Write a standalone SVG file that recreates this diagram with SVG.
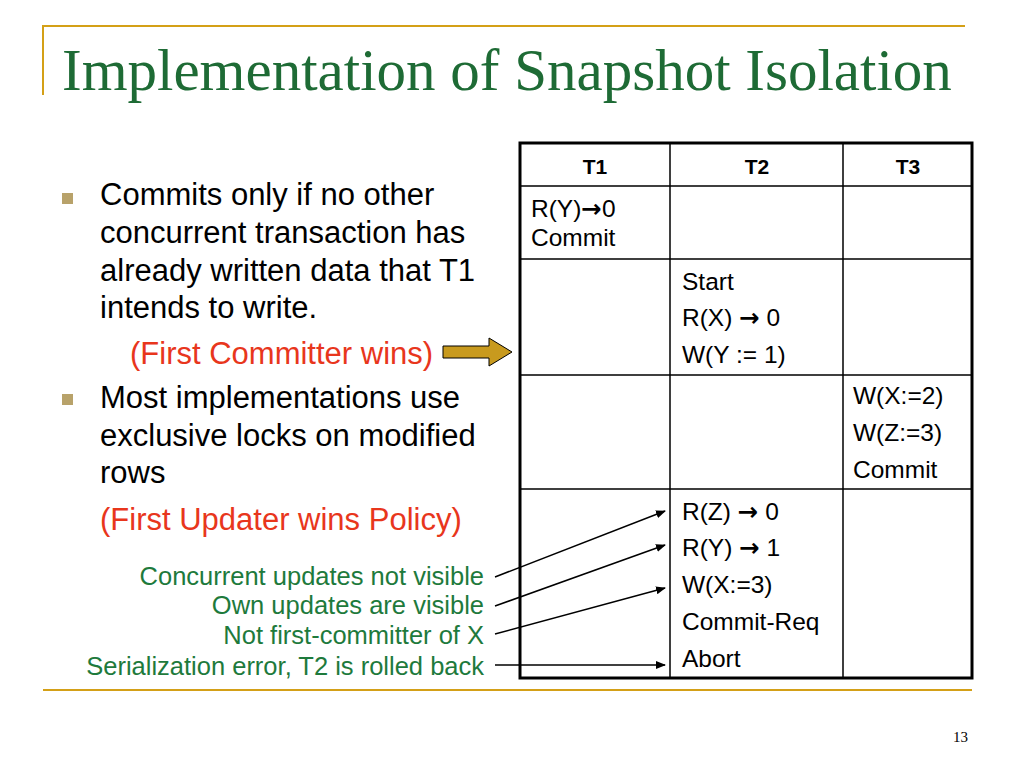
<svg xmlns="http://www.w3.org/2000/svg" width="1024" height="768" viewBox="0 0 1024 768">
<style>
.t{font-family:"Liberation Sans",Arial,sans-serif;fill:#000}
.c{font-size:24.5px}
.b{font-size:31px}
.r{font-size:31px;fill:#e8361c}
.g{font-size:25.5px;fill:#1e7a3c;text-anchor:end}
.h{font-size:21px;font-weight:bold;text-anchor:middle}
.a{font-family:"DejaVu Sans",sans-serif;font-weight:bold}
.ln{stroke:#000;stroke-width:1.5;fill:none}
</style>
<defs><marker id="ah" markerWidth="10" markerHeight="8" refX="9" refY="4" orient="auto" markerUnits="userSpaceOnUse"><path d="M0,0 L10,4 L0,8 z" fill="#000"/></marker></defs>
<rect width="1024" height="768" fill="#fff"/>
<g id="frame" stroke="#d4a017" stroke-width="2" fill="none">
<path d="M43,95 V26 H965"/><path d="M43,690 H972"/>
</g>
<text x="62" y="90" font-family="Liberation Serif,serif" font-size="59" fill="#1e6b35">Implementation of Snapshot Isolation</text>
<g id="bullets" class="t">
<rect x="62" y="193" width="11" height="11" fill="#b8a26a"/>
<text class="t b" x="100" y="205">Commits only if no other</text>
<text class="t b" x="100" y="243">concurrent transaction has</text>
<text class="t b" x="100" y="281">already written data that T1</text>
<text class="t b" x="100" y="318">intends to write.</text>
<text class="t r" x="130" y="364">(First Committer wins)</text>
<rect x="62" y="394" width="11" height="11" fill="#b8a26a"/>
<text class="t b" x="100" y="408">Most implementations use</text>
<text class="t b" x="100" y="446">exclusive locks on modified</text>
<text class="t b" x="100" y="483">rows</text>
<text class="t r" x="100" y="530">(First Updater wins Policy)</text>
</g>
<g id="bigarrow"><path d="M443,346 H489 V338 L512,352 L489,366 V358 H443 z" fill="#c89a1e" stroke="#000" stroke-width="1"/></g>
<g id="notes">
<text class="t g" x="484" y="585">Concurrent updates not visible</text>
<text class="t g" x="484" y="614">Own updates are visible</text>
<text class="t g" x="484" y="644">Not first-committer of X</text>
<text class="t g" x="484" y="675">Serialization error, T2 is rolled back</text>
</g>
<g id="table">
<rect x="520" y="143" width="452" height="535" fill="none" stroke="#000" stroke-width="3"/>
<path class="ln" d="M670,143 V678 M843,143 V678 M520,186 H972 M520,259 H972 M520,375 H972 M520,489 H972"/>
<text class="t h" x="595" y="174">T1</text>
<text class="t h" x="757" y="174">T2</text>
<text class="t h" x="908" y="174">T3</text>
<text class="t c" x="531" y="217">R(Y)<tspan class="a">→</tspan>0</text>
<text class="t c" x="531" y="246">Commit</text>
<text class="t c" x="682" y="290">Start</text>
<text class="t c" x="682" y="326">R(X) <tspan class="a">→</tspan> 0</text>
<text class="t c" x="682" y="363">W(Y := 1)</text>
<text class="t c" x="853" y="404">W(X:=2)</text>
<text class="t c" x="853" y="441">W(Z:=3)</text>
<text class="t c" x="853" y="478">Commit</text>
<text class="t c" x="682" y="520">R(Z) <tspan class="a">→</tspan> 0</text>
<text class="t c" x="682" y="556">R(Y) <tspan class="a">→</tspan> 1</text>
<text class="t c" x="682" y="593">W(X:=3)</text>
<text class="t c" x="682" y="630">Commit-Req</text>
<text class="t c" x="682" y="667">Abort</text>
</g>
<g id="connectors" stroke="#000" stroke-width="1.5" marker-end="url(#ah)">
<line x1="495" y1="577" x2="665" y2="511"/>
<line x1="495" y1="606" x2="665" y2="545"/>
<line x1="495" y1="634" x2="665" y2="588"/>
<line x1="495" y1="665" x2="665" y2="665"/>
</g>
<text x="953" y="742" font-family="Liberation Serif,serif" font-size="15" fill="#000">13</text>
</svg>
